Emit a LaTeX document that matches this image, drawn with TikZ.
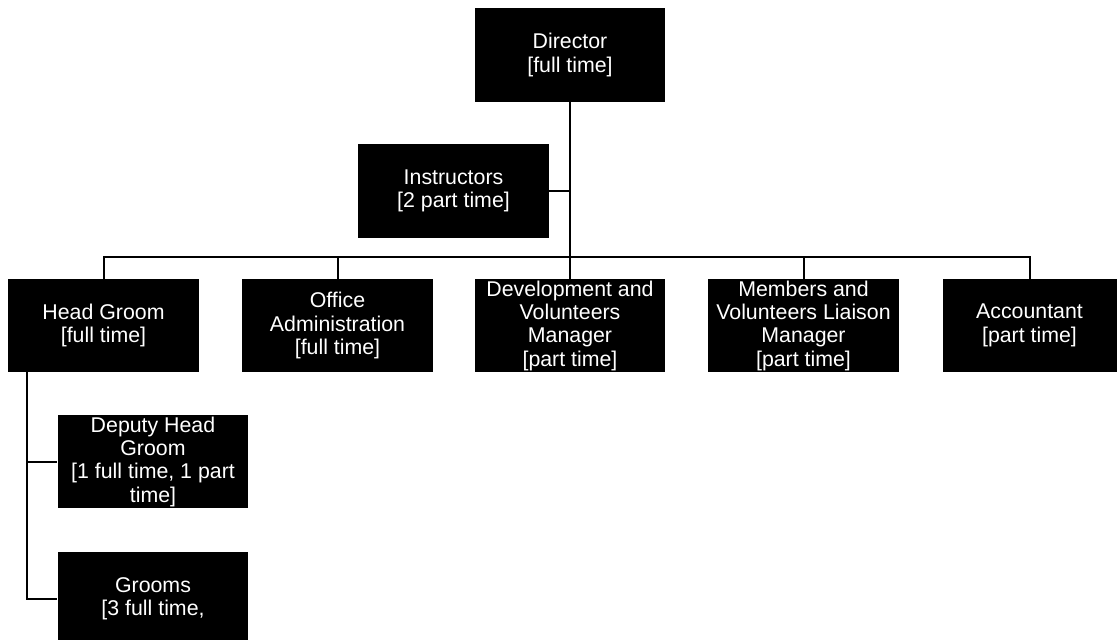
\documentclass[tikz,border=0pt]{standalone}
\usepackage{fontspec}
\setmainfont{Liberation Sans}
\usetikzlibrary{positioning}

\begin{document}
\begin{tikzpicture}[x=0.75pt,y=-0.75pt,
    post/.style={fill=black,text=white,align=center,inner sep=0pt,
        minimum width=143pt,minimum height=70pt,
        font=\fontsize{16}{17.5}\selectfont},
    link/.style={line width=1.5pt}]
    \useasboundingbox (0,0) rectangle (1117,639);
    \clip (0,0) rectangle (1117,639);

    % Top of the chart
    \node[post] (director) at (570,55) {Director\\{[}full time{]}};
    \node[post] (instructors) at (453.5,191) {Instructors\\{[}2 part time{]}};

    % Second row
    \node[post] (headgroom) at (103.5,325.5) {Head Groom\\{[}full time{]}};
    \node[post] (office) at (337.5,325.5) {Office\\Administration\\{[}full time{]}};
    \node[post] (devmgr) at (570,325.5) {Development and\\Volunteers\\Manager\\{[}part time{]}};
    \node[post] (liaison) at (803.5,325.5) {Members and\\Volunteers Liaison\\Manager\\{[}part time{]}};
    \node[post,minimum width=130.5pt] (accountant) at (1029.5,325.5) {Accountant\\{[}part time{]}};

    % Under the head groom
    \node[post] (deputy) at (153,461.5) {Deputy Head\\Groom\\{[}1 full time, 1 part\\time{]}};
    \node[post] (grooms) at (153,598.5) {Grooms\\{[}3 full time,};

    % Lines
    \coordinate (bus) at (570,257);
    \coordinate (trunk) at (27,372);
    \draw[link] (director.south) -- (devmgr.north);
    \draw[link] (instructors.east) -- (instructors.east -| director.south);
    \draw[link] (headgroom.north) |- (bus) -| (accountant.north);
    \draw[link] (office.north) -- (office.north |- bus);
    \draw[link] (liaison.north) -- (liaison.north |- bus);
    \draw[link] (trunk) |- (deputy.west);
    \draw[link] (trunk) |- (grooms.west);
\end{tikzpicture}
\end{document}
